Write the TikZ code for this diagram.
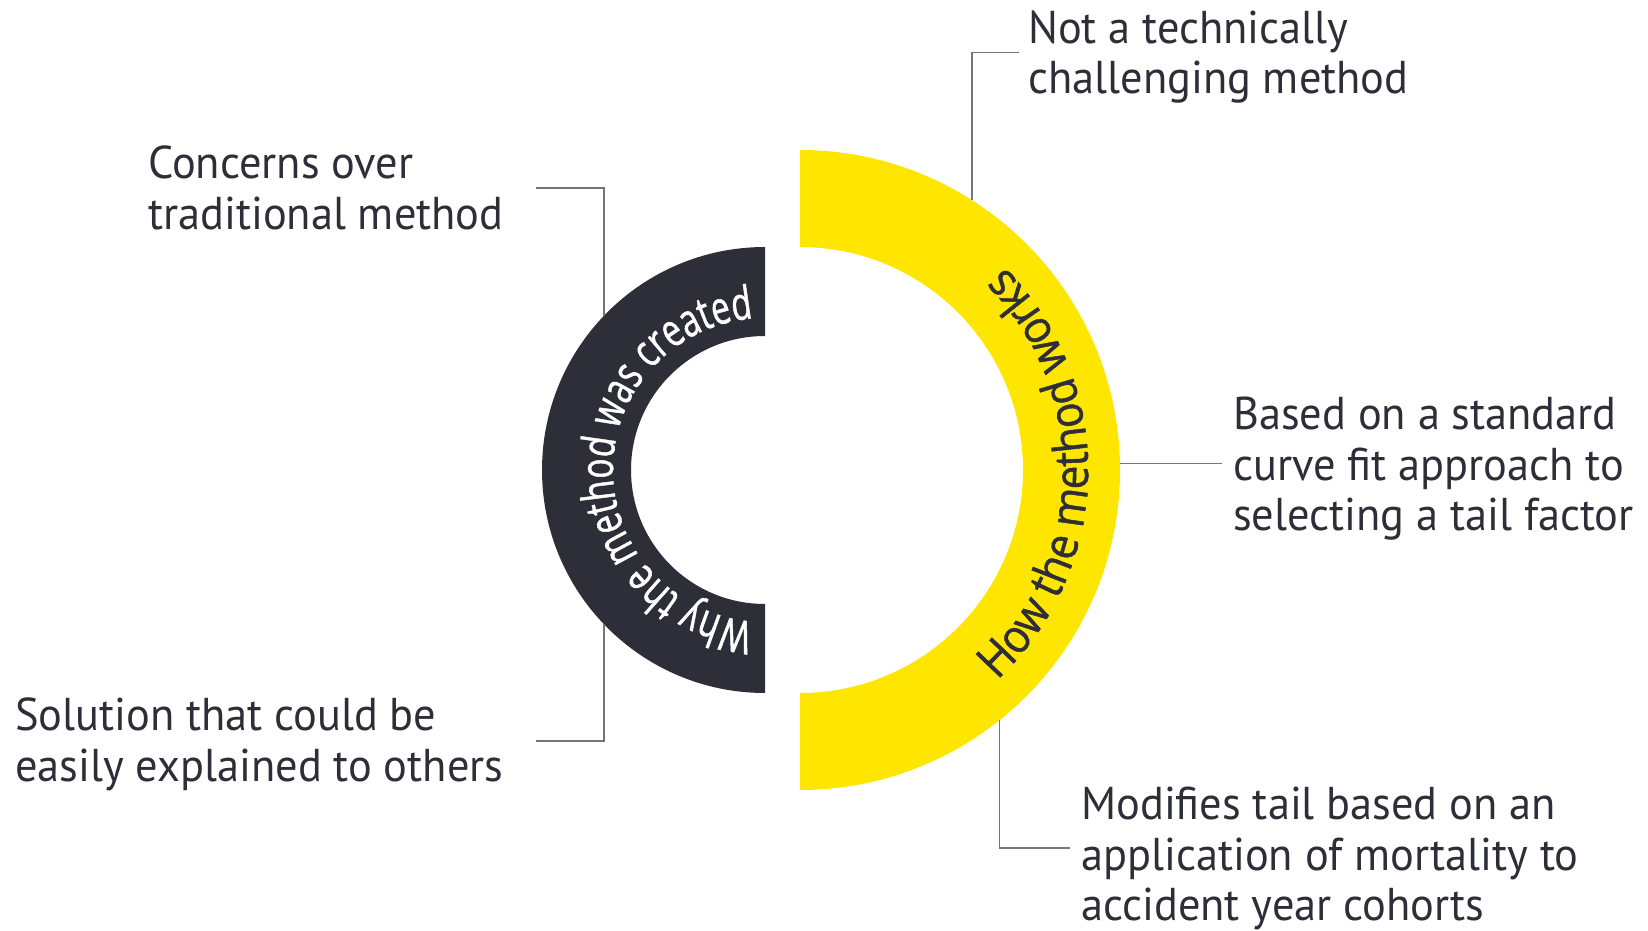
\documentclass[tikz,border=0pt]{standalone}
\usepackage{fontspec}
\setmainfont{PT Sans}[FakeStretch=0.965]
\newfontfamily\darkringfont{Open Sans}[FakeStretch=0.725,FakeBold=1]
\newfontfamily\yellowringfont{Open Sans}[FakeStretch=0.9,FakeBold=1]
\usetikzlibrary{decorations.text,calc}
\definecolor{eydark}{HTML}{2E2E38}
\definecolor{eyyellow}{HTML}{FFE600}
\definecolor{leadergray}{HTML}{747480}

\begin{document}
\begin{tikzpicture}[x=1pt,y=1pt,
  callout/.style={inner sep=0pt, anchor=north west, align=left, text=eydark,
    font=\fontsize{46}{50.5}\selectfont},
  leader/.style={draw=leadergray, line width=1.4pt},
]
\useasboundingbox (0,0) rectangle (1648,930);

% ring centres
\coordinate (dc) at (765,460);
\coordinate (yc) at (800,460);

% dark half ring (left)
\fill[eydark] ($(dc)+(0,223)$) arc[start angle=90,end angle=270,radius=223]
  -- ($(dc)+(0,-134)$) arc[start angle=270,end angle=90,radius=134] -- cycle;

% yellow half ring (right)
\fill[eyyellow] ($(yc)+(0,320)$) arc[start angle=90,end angle=-90,radius=320]
  -- ($(yc)+(0,-223)$) arc[start angle=-90,end angle=90,radius=223] -- cycle;

% curved titles
\path[decorate, decoration={text along path, text align=center,
  text={|\color{white}\darkringfont\fontsize{46}{48}\selectfont|Why the method was created}}]
  ($(dc)+(269:152)$) arc[start angle=269,end angle=91,radius=152];
\path[decorate, decoration={text along path, text align=center,
  text={|\color{eydark}\yellowringfont\fontsize{47}{49}\selectfont|How the method works}}]
  ($(yc)+(-61:288)$) arc[start angle=-61,end angle=59,radius=288];

% callouts
\node[callout] (n1) at (148,784) {Concerns over\\traditional method};
\node[callout] (n2) at (15,232) {Solution that could be\\easily explained to others};
\node[callout] (n3) at (1028,919.5) {Not a technically\\challenging method};
\node[callout] (n4) at (1233,533) {Based on a standard\\curve fit approach to\\selecting a tail factor};
\node[callout] (n5) at (1081,143) {Modifies tail based on an\\application of mortality to\\accident year cohorts};

% leader end points
\coordinate (e1) at (536,742);
\coordinate (e2) at (536,189);
\coordinate (e3) at (1019,877.5);
\coordinate (e4) at (1222,466.7);
\coordinate (e5) at (1070,82);
\coordinate (r1) at ($(dc)+(136.2:223)$);
\coordinate (r2) at ($(dc)+(223.8:223)$);
\coordinate (r3) at ($(yc)+(57.5:320)$);
\coordinate (r4) at ($(yc)+(1.2:320)$);
\coordinate (r5) at ($(yc)+(-51.4:320)$);

% leaders
\draw[leader] (e1) -| (r1);
\draw[leader] (e2) -| (r2);
\draw[leader] (e3) -| (r3);
\draw[leader] (r4) -- (r4 -| e4);
\draw[leader] (e5) -| (r5);
\end{tikzpicture}
\end{document}
